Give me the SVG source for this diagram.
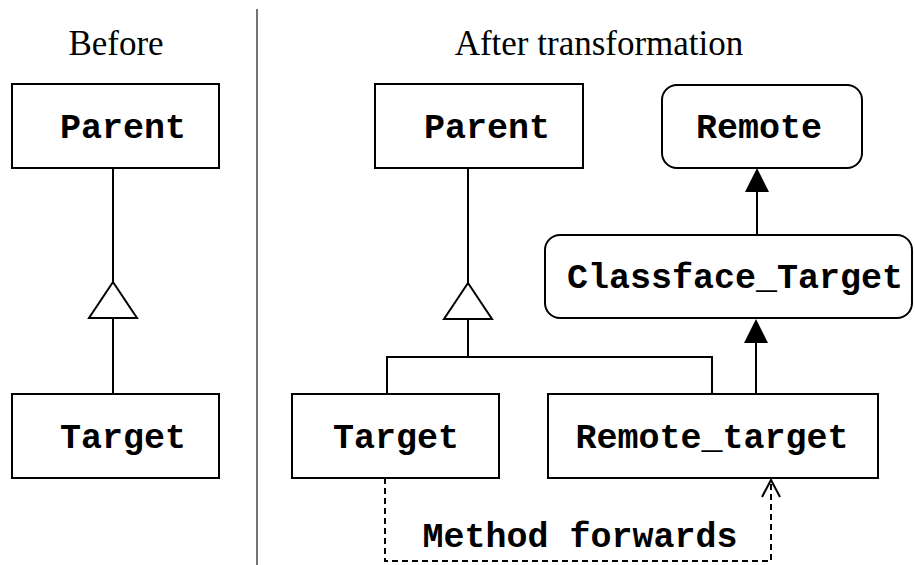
<svg xmlns="http://www.w3.org/2000/svg" width="915" height="565" viewBox="0 0 915 565">
<style>
.box{fill:#fff;stroke:#000;stroke-width:2}
.lbl{font-family:"Liberation Mono","Courier New",monospace;font-weight:bold;font-size:35px;text-anchor:middle;fill:#000}
.title{font-family:"Liberation Serif","Times New Roman",serif;font-size:35px;text-anchor:middle;fill:#000}
.ln{fill:none;stroke:#000;stroke-width:2}
.dash{fill:none;stroke:#000;stroke-width:2;stroke-dasharray:6,4}
</style>
<defs>
<marker id="filled" markerWidth="26" markerHeight="24" refX="13" refY="0" orient="0" markerUnits="userSpaceOnUse" viewBox="0 0 26 24">
<path d="M13,0 L25,24 L1,24 Z" fill="#000"/>
</marker>
</defs>
<rect x="0" y="0" width="915" height="565" fill="#fff"/>
<g id="titles">
<text class="title" x="116" y="55">Before</text>
<text class="title" x="599" y="55">After transformation</text>
<line x1="257" y1="9" x2="257" y2="565" stroke="#444" stroke-width="1.5"/>
</g>
<g id="connectors">
<line class="ln" x1="113" y1="168" x2="113" y2="282"/>
<polygon class="ln" points="113,282 137,318 89,318"/>
<line class="ln" x1="113" y1="318" x2="113" y2="394"/>
<line class="ln" x1="468" y1="168" x2="468" y2="283"/>
<polygon class="ln" points="468,283 492,319 444,319"/>
<polyline class="ln" points="468,319 468,357"/>
<polyline class="ln" points="387,394 387,357 712,357 712,394"/>
<line class="ln" x1="757" y1="235" x2="757" y2="190"/>
<path d="M757,168 L769,192 L745,192 Z" fill="#000"/>
<line class="ln" x1="756" y1="394" x2="756" y2="341"/>
<path d="M756,319 L768,343 L744,343 Z" fill="#000"/>
<polyline class="dash" points="385,478 385,561 771,561 771,481"/>
<polyline class="ln" points="762,497 771,480 780,497" stroke-width="1.8"/>
<text class="lbl" x="580" y="547">Method forwards</text>
</g>
<g id="before-parent">
<rect class="box" x="12" y="84" width="207" height="84"/>
<text class="lbl" x="123" y="138">Parent</text>
</g>
<g id="before-target">
<rect class="box" x="12" y="394" width="207" height="84"/>
<text class="lbl" x="123" y="448">Target</text>
</g>
<g id="after-parent">
<rect class="box" x="375" y="84" width="208" height="84"/>
<text class="lbl" x="487" y="138">Parent</text>
</g>
<g id="remote">
<rect class="box" x="662" y="85" width="200" height="83" rx="15"/>
<text class="lbl" x="759" y="138">Remote</text>
</g>
<g id="classface-target">
<rect class="box" x="545" y="235" width="367" height="83" rx="15"/>
<text class="lbl" x="735" y="288">Classface_Target</text>
</g>
<g id="after-target">
<rect class="box" x="292" y="394" width="207" height="84"/>
<text class="lbl" x="396" y="448">Target</text>
</g>
<g id="remote-target">
<rect class="box" x="548" y="394" width="330" height="84"/>
<text class="lbl" x="712" y="448">Remote_target</text>
</g>
</svg>
